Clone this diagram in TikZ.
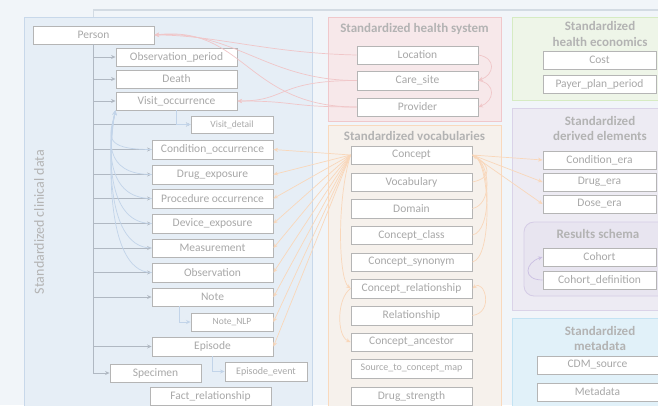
\documentclass[tikz,border=0pt]{standalone}
\usepackage{fontspec}
\setmainfont{Carlito}
\usetikzlibrary{arrows.meta}

\definecolor{fondo}{HTML}{F1F5F9}
\definecolor{marco}{HTML}{D3DBE3}
\definecolor{clinfill}{HTML}{E6EEF6}
\definecolor{clinline}{HTML}{C8D8EA}
\definecolor{hsfill}{HTML}{F7E8EA}
\definecolor{hsline}{HTML}{F0C8CB}
\definecolor{vocfill}{HTML}{F6F1EC}
\definecolor{vocline}{HTML}{F9D9BD}
\definecolor{econfill}{HTML}{EEF5E8}
\definecolor{econline}{HTML}{D6EBC3}
\definecolor{derfill}{HTML}{EDEBF3}
\definecolor{derline}{HTML}{DAD3E8}
\definecolor{resfill}{HTML}{E8E5F0}
\definecolor{resline}{HTML}{D5CCE6}
\definecolor{metafill}{HTML}{E1F1F9}
\definecolor{metaline}{HTML}{C3E3F3}
\definecolor{txt}{HTML}{A8A8A8}
\definecolor{caja}{HTML}{B5B5B5}
\definecolor{tit}{HTML}{B3B3B3}
\definecolor{gris}{HTML}{B0B8C2}
\definecolor{azul}{HTML}{C2D4E9}
\definecolor{rosa}{HTML}{F0C6C8}
\definecolor{naranja}{HTML}{F9D7BA}
\definecolor{lila}{HTML}{CABFE2}

\tikzset{
	tabla/.style={draw=caja, line width=0.9pt, fill=white, text=txt, inner sep=0pt, minimum width=121pt, minimum height=18pt, font=\fontsize{11.5}{12}\selectfont},
	tablita/.style={tabla, minimum width=82pt, font=\fontsize{9.5}{10}\selectfont},
	tablader/.style={tabla, minimum width=113pt},
	titulo/.style={text=tit, align=center, font=\bfseries\fontsize{13}{15.5}\selectfont},
	tronco/.style={draw=gris, line width=0.7pt, ->},
	azulf/.style={draw=azul, line width=0.7pt, ->},
	rosaf/.style={draw=rosa, line width=0.7pt, ->},
	naranjaf/.style={draw=naranja, line width=0.7pt, ->},
	lilaf/.style={draw=lila, line width=0.7pt, ->}
}

\begin{document}
\begin{tikzpicture}[x=1pt, y=-1pt, >={Stealth[length=4.5pt,width=4pt]}]
	\clip (0,0) rectangle (658,405);
	\fill[fondo] (0,0) rectangle (658,405);
	\draw[marco, line width=1.2pt] (665,10) -- (93.5,10) -- (93.5,26);

	% Regiones
		\draw[clinline, fill=clinfill, line width=0.8pt] (24,17) rectangle (312,412);
		\draw[hsline, fill=hsfill, line width=0.8pt] (328,17) rectangle (501,121);
		\draw[vocline, fill=vocfill, line width=0.8pt] (328,125) rectangle (501,412);
		\draw[econline, fill=econfill, line width=0.8pt] (512,17) rectangle (665,100);
		\draw[derline, fill=derfill, line width=0.8pt] (512,108) rectangle (665,310);
		\draw[resline, fill=resfill, line width=0.8pt, rounded corners=10pt] (524,222) rectangle (672,296);
		\draw[metaline, fill=metafill, line width=0.8pt] (512,318) rectangle (665,412);

	% Titulos
		\node[text=tit, rotate=90, font=\fontsize{14}{16}\selectfont] (tclin) at (39,222) {Standardized clinical data};
		\node[titulo] (ths) at (414.5,29) {Standardized health system};
		\node[titulo] (tvoc) at (414.5,136) {Standardized vocabularies};
		\node[titulo] (tecon) at (600,34) {Standardized\\health economics};
		\node[titulo] (tder) at (600,128.5) {Standardized\\derived elements};
		\node[titulo] (tres) at (598,234) {Results schema};
		\node[titulo] (tmeta) at (600,338.5) {Standardized\\metadata};

	% Datos clinicos
		\node[tabla] (person) at (93.5,35) {Person};
		\node[tabla] (obsperiod) at (176.5,57) {Observation\_period};
		\node[tabla] (death) at (176.5,79) {Death};
		\node[tabla] (visit) at (176.5,101) {Visit\_occurrence};
		\node[tablita, minimum height=17pt] (visitdetail) at (232,124.5) {Visit\_detail};
		\node[tabla, minimum height=19pt] (condocc) at (212.5,149.5) {Condition\_occurrence};
		\node[tabla, minimum height=19pt] (drugexp) at (212.5,174.5) {Drug\_exposure};
		\node[tabla, minimum height=19pt] (prococc) at (212.5,198.5) {Procedure occurrence};
		\node[tabla, minimum height=19pt] (deviceexp) at (212.5,223.5) {Device\_exposure};
		\node[tabla] (measure) at (212.5,248) {Measurement};
		\node[tabla, minimum height=19pt] (observ) at (212.5,272.5) {Observation};
		\node[tabla] (note) at (212.5,297) {Note};
		\node[tablita] (notenlp) at (232,322) {Note\_NLP};
		\node[tabla, minimum height=19pt] (episode) at (212.5,346.5) {Episode};
		\node[tabla, minimum width=91pt] (specimen) at (155.5,373) {Specimen};
		\node[tablita, minimum height=19pt, font=\fontsize{10}{10}\selectfont] (episodeevent) at (266,371.5) {Episode\_event};
		\node[tabla] (factrel) at (210.5,396) {Fact\_relationship};

	% Sistema de salud
		\node[tabla] (location) at (417.5,55) {Location};
		\node[tabla, minimum height=19pt] (caresite) at (417.5,80.5) {Care\_site};
		\node[tabla] (provider) at (417.5,107) {Provider};

	% Vocabularios
		\node[tabla] (concept) at (411.5,155) {Concept};
		\node[tabla] (vocabulary) at (411.5,182) {Vocabulary};
		\node[tabla, minimum height=19pt] (domain) at (411.5,208.5) {Domain};
		\node[tabla] (conceptclass) at (411.5,235) {Concept\_class};
		\node[tabla] (conceptsyn) at (411.5,262) {Concept\_synonym};
		\node[tabla, minimum height=19pt] (conceptrel) at (411.5,288.5) {Concept\_relationship};
		\node[tabla, minimum height=19pt] (relationship) at (411.5,315.5) {Relationship};
		\node[tabla] (conceptanc) at (411.5,342) {Concept\_ancestor};
		\node[tabla, minimum height=19pt, font=\fontsize{10}{10}\selectfont] (stcm) at (411.5,368.5) {Source\_to\_concept\_map};
		\node[tabla] (drugstrength) at (411.5,396) {Drug\_strength};

	% Economia, derivados, resultados, metadatos
		\node[tablader] (cost) at (599.5,60) {Cost};
		\node[tablader] (payer) at (599.5,84) {Payer\_plan\_period};
		\node[tablader] (condera) at (599.5,160) {Condition\_era};
		\node[tablader] (drugera) at (599.5,182) {Drug\_era};
		\node[tablader] (doseera) at (599.5,204) {Dose\_era};
		\node[tablader] (cohort) at (599.5,257) {Cohort};
		\node[tablader] (cohortdef) at (599.5,280) {Cohort\_definition};
		\node[tabla] (cdmsource) at (597.5,365) {CDM\_source};
		\node[tabla] (metadata) at (597.5,392) {Metadata};

	% Conectores clinicos
		\foreach \t in {obsperiod,death,visit,visitdetail,condocc,drugexp,prococc,deviceexp,measure,observ,note,episode,specimen}
			\draw[tronco] (person.south) |- (\t.west);
		\foreach \t in {condocc,drugexp,prococc,deviceexp,measure,observ}
			\draw[azulf] (\t.west) .. controls +(-50,0) and +(-6,25) .. (visit.south west);
		\draw[azulf] (visit.south) |- (visitdetail.west);
		\draw[azulf] ([xshift=-33pt]note.south) |- (notenlp.west);
		\draw[azulf] (episode.south) |- (episodeevent.west);

	% Conectores sistema de salud
		\draw[rosaf] (location.west) .. controls +(-90,-2) and +(60,0) .. (person.east);
		\draw[rosaf] (caresite.west) .. controls +(-90,0) and +(80,-5) .. (person.east);
		\draw[rosaf] (provider.west) .. controls +(-110,0) and +(90,-10) .. (person.east);
		\draw[rosaf] (caresite.west) .. controls +(-80,0) and +(50,0) .. (visit.east);
		\draw[rosaf] (provider.west) .. controls +(-70,0) and +(60,0) .. (visit.east);
		\draw[rosaf] (location.east) .. controls +(18,3) and +(16,-6) .. (caresite.east);
		\draw[rosaf] (caresite.east) .. controls +(18,3) and +(16,-6) .. (provider.east);

	% Conectores vocabularios
		\foreach \t in {condocc,drugexp,prococc,deviceexp,measure,observ,note,notenlp,episode}
			\draw[naranjaf] (concept.west) -- (\t.east);
		\foreach \t in {condera,drugera,doseera}
			\draw[naranjaf] (concept.east) -- (\t.west);
		\foreach \t in {vocabulary,domain,conceptclass,conceptsyn}
			\draw[naranjaf] (\t.east) .. controls +(20,-4) and +(18,10) .. (concept.east);
		\draw[naranjaf] (concept.west) .. controls +(-14,45) and +(-12,-10) .. (conceptrel.west);
		\draw[naranjaf] (conceptrel.west) .. controls +(-14,10) and +(-14,-6) .. (conceptanc.west);
		\draw[naranjaf] (relationship.east) .. controls +(22,-3) and +(12,-10) .. (conceptrel.east);

	% Resultados
		\draw[lilaf] (cohortdef.west) .. controls +(-20,0) and +(-18,6) .. (cohort.west);
\end{tikzpicture}
\end{document}
